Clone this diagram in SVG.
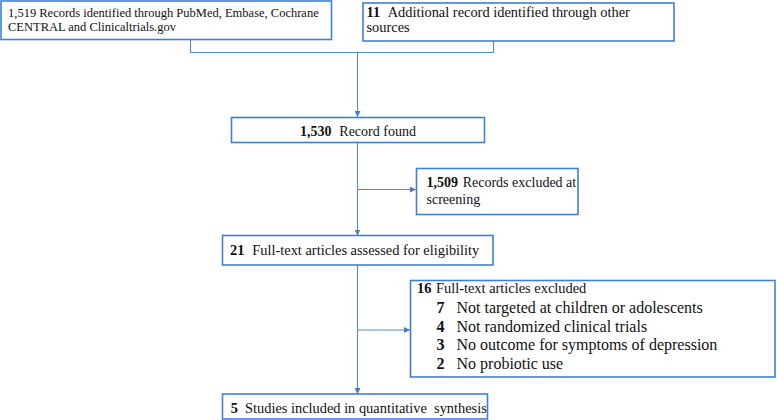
<svg xmlns="http://www.w3.org/2000/svg" width="777" height="420" viewBox="0 0 777 420">
<style>
.box{fill:#fff;stroke:#3f7fd6;stroke-width:1.6}
.t{font-family:"Liberation Serif","Times New Roman",serif;font-size:14.4px;fill:#111}
.s{font-size:12.5px}
.m{font-size:14px}
.b{font-weight:bold}
.big{font-size:16px}
.c{fill:none;stroke:#5b87d8;stroke-width:1.1}
</style>
<defs>
<marker id="ah" viewBox="0 0 6 6" refX="6" refY="3" markerWidth="6" markerHeight="6" orient="auto" markerUnits="userSpaceOnUse">
<path d="M0,0 L6,3 L0,6 Z" fill="#4a7ad0"/>
</marker>
</defs>
<g id="connectors">
<path class="c" d="M190.5,40 V52.5 H493.5 V41"/>
<path class="c" d="M357.5,52.5 V117" marker-end="url(#ah)"/>
<path class="c" d="M357.5,142.5 V235.5" marker-end="url(#ah)"/>
<path class="c" d="M357.5,189.5 H416" marker-end="url(#ah)"/>
<path class="c" d="M357.5,265 V394" marker-end="url(#ah)"/>
<path class="c" d="M357.5,330 H410" marker-end="url(#ah)"/>
</g>
<g id="n1">
<rect class="box" x="1" y="1" width="330.5" height="38.5"/>
<text class="t s" x="8" y="16.5">1,519 Records identified through PubMed, Embase, Cochrane</text>
<text class="t s" x="8" y="30.5">CENTRAL and Clinicaltrials.gov</text>
</g>
<g id="n2">
<rect class="box" x="363" y="3" width="311" height="38"/>
<text class="t b" x="366.5" y="16.8">11</text>
<text class="t" x="387.7" y="16.8">Additional record identified through other</text>
<text class="t" x="366.5" y="31.8">sources</text>
</g>
<g id="n3">
<rect class="box" x="231.5" y="117.5" width="253" height="25"/>
<text class="t m b" x="300" y="135.5">1,530</text>
<text class="t m" x="339.3" y="135.5">Record found</text>
</g>
<g id="n4">
<rect class="box" x="416.5" y="168.5" width="161.5" height="46"/>
<text class="t m b" x="426.5" y="187">1,509</text>
<text class="t m" x="462.7" y="187">Records excluded at</text>
<text class="t m" x="426.5" y="203.5">screening</text>
</g>
<g id="n5">
<rect class="box" x="222.5" y="235.5" width="270.5" height="29.5"/>
<text class="t b" x="230" y="255">21</text>
<text class="t" x="252.3" y="255">Full-text articles assessed for eligibility</text>
</g>
<g id="n6">
<rect class="box" x="410.5" y="280.5" width="364.5" height="96.5"/>
<text class="t b" x="417" y="293">16</text>
<text class="t" x="436" y="293">Full-text articles excluded</text>
<text class="t big b" x="436.5" y="312.5">7</text>
<text class="t big" x="456.5" y="312.5">Not targeted at children or adolescents</text>
<text class="t big b" x="436.5" y="331.5">4</text>
<text class="t big" x="456.5" y="331.5">Not randomized clinical trials</text>
<text class="t big b" x="436.5" y="350">3</text>
<text class="t big" x="456.5" y="350">No outcome for symptoms of depression</text>
<text class="t big b" x="436.5" y="369">2</text>
<text class="t big" x="456.5" y="369">No probiotic use</text>
</g>
<g id="n7">
<rect class="box" x="222.5" y="394" width="265" height="25"/>
<text class="t b" x="230.7" y="413">5</text>
<text class="t" x="245" y="413" xml:space="preserve">Studies included in quantitative  synthesis</text>
</g>
</svg>
